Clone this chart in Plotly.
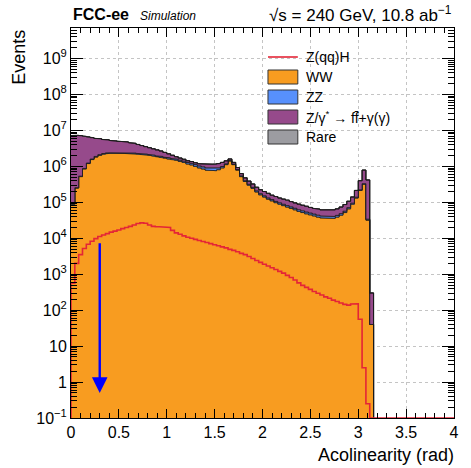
import math
import plotly.graph_objects as go

# ---------------- data (events per 0.04 rad bin, from 0 rad) ----------------
bin_width = 0.04
n_bins = 100  # axis 0..4 rad

ww = [8.9e4, 2.5e5, 5.2e5, 8.5e5, 1.2e6, 1.55e6, 1.82e6, 2.04e6,
      2.19e6, 2.29e6, 2.34e6, 2.34e6, 2.34e6, 2.34e6, 2.29e6, 2.29e6,
      2.24e6, 2.19e6, 2.14e6, 2.09e6, 2.04e6, 1.95e6, 1.86e6, 1.78e6,
      1.70e6, 1.62e6, 1.55e6, 1.48e6, 1.38e6, 1.29e6, 1.17e6, 1.10e6,
      1.00e6, 9.1e5, 8.5e5, 7.9e5, 7.6e5, 7.6e5, 8.1e5, 9.1e5,
      1.12e6, 1.41e6, 1.12e6, 7.9e5, 5.2e5, 3.8e5, 3.0e5, 2.45e5,
      1.95e5, 1.62e5, 1.41e5, 1.23e5, 1.10e5, 9.8e4, 8.9e4, 8.1e4,
      7.4e4, 6.8e4, 6.2e4, 5.6e4, 5.2e4, 4.8e4, 4.5e4, 4.2e4,
      3.9e4, 3.7e4, 3.55e4, 3.55e4, 3.6e4, 3.9e4, 4.4e4, 5.2e4,
      6.6e4, 8.9e4, 1.32e5, 2.14e5, 3.2e5, 3.2e4, 40]

zz = [2e3, 6e3, 1.5e4, 2.5e4, 4e4, 5.5e4, 7e4, 8e4,
      9e4, 1.0e5, 1.05e5, 1.1e5, 1.1e5, 1.1e5, 1.1e5, 1.1e5,
      1.1e5, 1.1e5, 1.1e5, 1.1e5, 1.1e5, 1.1e5, 1.1e5, 1.1e5,
      1.1e5, 1.1e5, 1.1e5, 1.1e5, 1.1e5, 1.1e5, 1.15e5, 1.2e5,
      1.2e5, 1.2e5, 1.2e5, 1.2e5, 1.15e5, 1.1e5, 1.0e5, 8e4,
      6e4, 5e4, 4e4, 3e4, 2.5e4, 2e4, 1.8e4, 1.6e4,
      1.4e4, 1.2e4, 1.1e4, 1.0e4, 9e3, 8.5e3, 8e3, 7.5e3,
      7e3, 6.8e3, 6.5e3, 6.2e3, 6e3, 5.8e3, 5.5e3, 5.2e3,
      5e3, 4.8e3, 4.6e3, 4.5e3, 4.4e3, 4.4e3, 4.5e3, 4.8e3,
      5.2e3, 6e3, 7e3, 9e3, 1.0e4, 2e3, 0]

zgamma = [7.11e6, 7.14e6, 6.67e6, 6.03e6, 5.36e6, 4.70e6, 4.11e6, 3.78e6,
          3.32e6, 3.11e6, 2.81e6, 2.65e6, 2.55e6, 2.45e6, 2.40e6, 2.17e6,
          2.02e6, 1.77e6, 1.55e6, 1.35e6, 1.16e6, 1.03e6, 9.1e5, 8.0e5,
          6.4e5, 5.1e5, 3.8e5, 2.7e5, 2.2e5, 1.8e5, 1.55e5, 1.45e5,
          1.45e5, 1.6e5, 1.9e5, 2.3e5, 2.6e5, 2.8e5, 2.9e5, 3.0e5,
          2.5e5, 1.5e5, 1.3e5, 1.1e5, 8.5e4, 8e4, 7.2e4, 6.3e4,
          5.4e4, 5.0e4, 4.8e4, 4.5e4, 3.9e4, 3.85e4, 3.5e4, 3.45e4,
          3.4e4, 3.0e4, 2.8e4, 2.7e4, 2.5e4, 2.4e4, 2.15e4, 2.1e4,
          2.1e4, 2.0e4, 2.0e4, 2.0e4, 2.15e4, 2.25e4, 2.55e4, 3.0e4,
          3.6e4, 4.6e4, 7.5e4, 1.77e5, 4.6e5, 3.86e5, 260]

rare = [2e4, 2e4, 1.8e4, 1.6e4, 1.5e4, 1.4e4, 1.3e4, 1.2e4,
        1.1e4, 1e4, 1e4, 9e3, 9e3, 8e3, 8e3, 7e3,
        7e3, 6.5e3, 6e3, 5.5e3, 5e3, 4.5e3, 4e3, 3.8e3,
        3.5e3, 3.2e3, 3e3, 2.8e3, 2.6e3, 2.4e3, 2.2e3, 2e3,
        1.9e3, 1.8e3, 1.7e3, 1.7e3, 1.7e3, 1.7e3, 1.8e3, 1.9e3,
        2e3, 2.2e3, 1.8e3, 1.4e3, 1.1e3, 900, 800, 700,
        600, 550, 500, 480, 450, 420, 400, 380,
        360, 340, 320, 300, 290, 280, 270, 260,
        250, 250, 250, 250, 260, 280, 300, 340,
        400, 500, 700, 1000, 1500, 800, 5]

zqqh = [560, 2.0e3, 3.5e3, 5.2e3, 6.8e3, 8.3e3, 9.8e3, 1.12e4,
        1.23e4, 1.35e4, 1.48e4, 1.58e4, 1.70e4, 1.86e4, 2.0e4, 2.14e4,
        2.34e4, 2.57e4, 2.69e4, 2.63e4, 2.34e4, 2.14e4, 2.09e4, 2.09e4,
        2.09e4, 2.0e4, 1.66e4, 1.41e4, 1.29e4, 1.17e4, 1.07e4, 1.0e4,
        9.3e3, 8.7e3, 8.1e3, 7.6e3, 7.1e3, 6.6e3, 6.2e3, 5.75e3,
        5.4e3, 4.9e3, 4.6e3, 4.2e3, 3.8e3, 3.5e3, 3.1e3, 2.75e3,
        2.4e3, 2.14e3, 1.9e3, 1.7e3, 1.51e3, 1.35e3, 1.2e3, 1.07e3,
        930, 810, 690, 575, 490, 430, 380, 330,
        295, 263, 234, 214, 190, 174, 158, 145,
        138, 148, 151, 56, 2.5, 0.25, 0]

legend_labels = ["Z(qq)H", "WW", "ZZ", "Z/γ<sup>*</sup> → ff\u0304+γ(γ)", "Rare"]
x_title = "Acolinearity (rad)"
y_title = "Events"
arrow_x = 0.30
arrow_from, arrow_to = 8000, 0.5

# ---------------- styling ----------------
C_WW, C_ZZ, C_ZG, C_RARE, C_H = "#f89c20", "#5790fc", "#964a8b", "#9c9ca1", "#e42536"
FONT = "Liberation Sans, Arial, sans-serif"
YMIN_LOG, YMAX_LOG = -1, 9.85
FLOOR = 1e-4

L, R, T, B = 71, 456, 28, 418
W_PX, H_PX = 471, 468


def xp(px):
    return (px - L) / (R - L)


def yp(py):
    return (B - py) / (B - T)


def pad(v):
    return list(v) + [0.0] * (n_bins - len(v))


edges = [i * bin_width for i in range(n_bins + 1)]


def step(vals):
    xs, ys = [], []
    for i, v in enumerate(vals):
        xs += [edges[i], edges[i + 1]]
        ys += [max(v, FLOOR), max(v, FLOOR)]
    return xs, ys


layers = [(pad(ww), C_WW), (pad(zz), C_ZZ), (pad(zgamma), C_ZG), (pad(rare), C_RARE)]

fig = go.Figure()
cum_prev = [0.0] * n_bins
for vals, col in layers:
    cum = [a + b for a, b in zip(cum_prev, vals)]
    xt, yt = step(cum)
    xb, yb = step(cum_prev)
    fig.add_trace(go.Scatter(
        x=xt + xb[::-1], y=yt + yb[::-1], fill="toself", fillcolor=col,
        mode="lines", line=dict(color="#1a1a1a", width=0.8),
        hoverinfo="skip", showlegend=False))
    cum_prev = cum

# signal line (ROOT draws empty bins on the axis floor)
hx, hy = step(pad(zqqh))
hy = [max(v, 10 ** YMIN_LOG) for v in hy]
hx = [edges[0]] + hx
hy = [10 ** YMIN_LOG] + hy
fig.add_trace(go.Scatter(x=hx, y=hy, mode="lines",
                         line=dict(color=C_H, width=1.6),
                         hoverinfo="skip", showlegend=False))

# blue arrow
fig.add_annotation(x=arrow_x, y=math.log10(arrow_to), ax=arrow_x, ay=math.log10(arrow_from),
                   xref="x", yref="y", axref="x", ayref="y", text="", showarrow=True,
                   arrowhead=2, arrowsize=1.3, arrowwidth=2.4, arrowcolor="#0000ff")

# y ticks
ytv = [10 ** k for k in range(-1, 10)]
ytt = []
for k in range(-1, 10):
    if k == 0:
        ytt.append("1")
    elif k == 1:
        ytt.append("10")
    else:
        ytt.append("10<sup>%s</sup>" % (str(k).replace("-", "−")))
yminor = [m * 10 ** k for k in range(-1, 10) for m in range(2, 10)]

fig.update_xaxes(range=[0, 4], dtick=0.5, tick0=0, ticks="inside", ticklen=9,
                 tickwidth=1, tickcolor="black", showline=True, linecolor="black",
                 linewidth=1, mirror="ticks", showgrid=True, gridcolor="#c4c4c4",
                 griddash="3px,3px", gridwidth=0.8, zeroline=False,
                 tickfont=dict(family=FONT, size=16, color="black"),
                 minor=dict(dtick=0.1, tick0=0, ticks="inside", ticklen=5,
                            tickcolor="black", showgrid=False))
fig.update_yaxes(type="log", range=[YMIN_LOG, YMAX_LOG], tickmode="array", tickvals=ytv,
                 ticktext=ytt, ticks="inside", ticklen=12, tickwidth=1, tickcolor="black",
                 showline=True, linecolor="black", linewidth=1, mirror="ticks",
                 showgrid=True, gridcolor="#c4c4c4", griddash="3px,3px", gridwidth=0.8,
                 zeroline=False, tickfont=dict(family=FONT, size=16, color="black"),
                 minor=dict(tickmode="array", tickvals=yminor, ticks="inside", ticklen=6,
                            tickcolor="black", showgrid=False))

# axis titles
fig.add_annotation(x=1, y=yp(455), xref="paper", yref="paper", text=x_title,
                   showarrow=False, xanchor="right", yanchor="middle", xshift=2,
                   font=dict(family=FONT, size=18, color="black"))
fig.add_annotation(x=xp(18), y=yp(28), xref="paper", yref="paper", text=y_title,
                   showarrow=False, textangle=-90, xanchor="center", yanchor="top",
                   font=dict(family=FONT, size=18, color="black"))

# header
fig.add_annotation(x=0, y=yp(15), xref="paper", yref="paper", text="<b>FCC-ee</b>",
                   showarrow=False, xanchor="left", yanchor="middle",
                   font=dict(family=FONT, size=16, color="black"))
fig.add_annotation(x=xp(138), y=yp(16), xref="paper", yref="paper", text="<i>Simulation</i>",
                   showarrow=False, xanchor="left", yanchor="middle",
                   font=dict(family=FONT, size=12, color="black"))
fig.add_annotation(x=1, y=yp(14), xref="paper", yref="paper",
                   text="√s = 240 GeV, 10.8 ab<sup>−1</sup>",
                   showarrow=False, xanchor="right", yanchor="middle",
                   font=dict(family=FONT, size=17, color="black"))

# legend (drawn manually, ROOT style)
leg_y = [57, 77, 97, 117, 137]
leg_cols = [None, C_WW, C_ZZ, C_ZG, C_RARE]
for lab, col, cy in zip(legend_labels, leg_cols, leg_y):
    if col is None:
        fig.add_shape(type="line", xref="paper", yref="paper", x0=xp(269), x1=xp(299),
                      y0=yp(cy), y1=yp(cy), line=dict(color=C_H, width=1.6))
    else:
        fig.add_shape(type="rect", xref="paper", yref="paper", x0=xp(269), x1=xp(299),
                      y0=yp(cy + 7), y1=yp(cy - 7), fillcolor=col,
                      line=dict(color="#333333", width=1))
    fig.add_annotation(x=xp(305), y=yp(cy), xref="paper", yref="paper", text=lab,
                       showarrow=False, xanchor="left", yanchor="middle",
                       font=dict(family=FONT, size=14, color="black"))

fig.update_layout(width=W_PX, height=H_PX, margin=dict(l=L, r=W_PX - R, t=T, b=H_PX - B),
                  paper_bgcolor="white", plot_bgcolor="white", showlegend=False)

fig.write_html("out.html")
